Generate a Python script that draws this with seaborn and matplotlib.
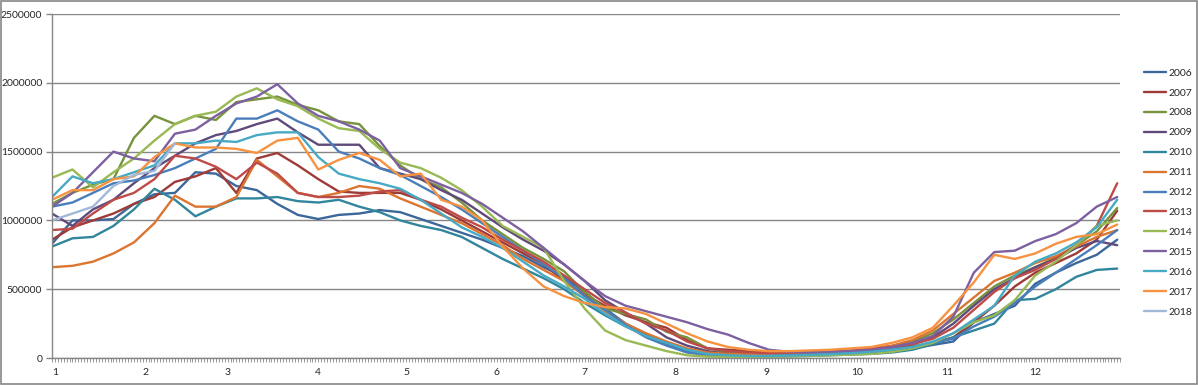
import matplotlib
matplotlib.use("Agg")
import matplotlib.pyplot as plt
from matplotlib.patches import Rectangle
from matplotlib.ticker import FixedLocator, MultipleLocator
import pandas as pd
import seaborn as sns

# values read weekly (day 0, 7, 14, ... 364), in thousands
years = ["2006", "2007", "2008", "2009", "2010", "2011", "2012",
         "2013", "2014", "2015", "2016", "2017", "2018"]
days = list(range(0, 365, 7))

v2006 = [830, 1000, 1000, 1010, 1120, 1190, 1200, 1350, 1340, 1250, 1220, 1120, 1040,
         1010, 1040, 1050, 1075, 1060, 1010, 960, 910, 860, 800, 740, 660, 590,
         480, 360, 250, 170, 110, 60, 30, 20, 15, 15, 18, 22, 28,
         35, 42, 55, 70, 95, 120, 260, 320, 380, 540, 620, 690, 750, 860]
v2007 = [860, 950, 1000, 1050, 1120, 1170, 1280, 1320, 1380, 1200, 1450, 1490, 1400,
         1300, 1210, 1200, 1200, 1200, 1150, 1080, 1000, 920, 840, 760, 680, 560,
         460, 380, 310, 260, 220, 130, 70, 60, 50, 40, 38, 40, 45,
         50, 60, 70, 85, 110, 150, 260, 380, 520, 620, 690, 760, 860, 1070]
v2008 = [1120, 1200, 1260, 1300, 1600, 1760, 1700, 1760, 1730, 1860, 1880, 1900, 1840,
         1800, 1720, 1700, 1540, 1400, 1300, 1240, 1130, 1000, 900, 800, 720, 630,
         480, 360, 320, 280, 190, 150, 70, 40, 25, 20, 20, 25, 30,
         45, 65, 85, 120, 180, 280, 400, 520, 600, 660, 730, 820, 920, 1090]
v2009 = [1050, 960, 1080, 1150, 1270, 1380, 1470, 1560, 1620, 1650, 1700, 1740, 1640,
         1550, 1550, 1550, 1380, 1340, 1300, 1220, 1150, 1050, 950, 860, 780, 680,
         560, 420, 330, 250, 150, 90, 50, 30, 20, 20, 25, 30, 35,
         45, 55, 70, 100, 150, 250, 380, 500, 580, 660, 720, 800, 850, 820]
v2010 = [810, 870, 880, 960, 1080, 1230, 1150, 1030, 1100, 1160, 1160, 1170, 1140,
         1130, 1150, 1100, 1060, 1000, 960, 930, 880, 800, 720, 650, 580, 500,
         400, 310, 230, 160, 100, 50, 25, 15, 10, 10, 12, 15, 20,
         25, 30, 40, 60, 100, 150, 200, 250, 420, 430, 500, 590, 640, 650]
v2011 = [660, 670, 700, 760, 840, 980, 1180, 1100, 1100, 1170, 1440, 1320, 1200,
         1170, 1200, 1250, 1230, 1160, 1100, 1040, 980, 900, 820, 720, 640, 560,
         450, 340, 250, 180, 120, 70, 40, 30, 25, 22, 25, 30, 35,
         50, 70, 90, 130, 200, 320, 440, 560, 620, 690, 740, 810, 880, 930]
v2012 = [1100, 1130, 1200, 1270, 1290, 1330, 1380, 1450, 1520, 1740, 1740, 1800, 1720,
         1660, 1500, 1450, 1380, 1330, 1250, 1170, 1080, 980, 880, 780, 680, 580,
         450, 350, 240, 150, 90, 40, 20, 15, 12, 15, 20, 25, 30,
         40, 50, 65, 80, 110, 140, 230, 300, 400, 520, 620, 720, 820, 930]
v2013 = [930, 940, 1050, 1150, 1200, 1300, 1470, 1450, 1390, 1300, 1420, 1340, 1200,
         1170, 1170, 1180, 1210, 1220, 1150, 1100, 1020, 950, 860, 780, 700, 600,
         500, 400, 330, 250, 200, 120, 70, 50, 40, 35, 40, 45, 50,
         55, 65, 80, 100, 140, 220, 350, 480, 580, 640, 720, 820, 960, 1270]
v2014 = [1310, 1370, 1240, 1350, 1450, 1580, 1700, 1760, 1790, 1900, 1960, 1880, 1830,
         1740, 1670, 1650, 1520, 1420, 1380, 1310, 1220, 1100, 960, 880, 800, 560,
         360, 200, 130, 90, 50, 20, 10, 8, 8, 10, 12, 15, 20,
         25, 30, 45, 70, 110, 180, 260, 310, 420, 600, 700, 820, 960, 1000]
v2015 = [1100, 1200, 1350, 1500, 1450, 1430, 1630, 1660, 1760, 1850, 1900, 1990, 1850,
         1760, 1720, 1660, 1580, 1380, 1320, 1260, 1200, 1120, 1020, 920, 800, 680,
         560, 450, 380, 340, 300, 260, 210, 170, 110, 60, 45, 40, 45,
         50, 60, 80, 110, 160, 300, 620, 770, 780, 850, 900, 980, 1100, 1170]
v2016 = [1170, 1320, 1270, 1300, 1350, 1400, 1560, 1560, 1580, 1570, 1620, 1640, 1640,
         1460, 1340, 1300, 1270, 1230, 1150, 1050, 950, 880, 800, 700, 600, 520,
         430, 320, 230, 160, 110, 60, 30, 20, 15, 15, 18, 22, 28,
         35, 45, 60, 80, 120, 180, 280, 380, 600, 700, 760, 840, 950, 1150]
v2017 = [1150, 1220, 1220, 1300, 1320, 1460, 1560, 1530, 1530, 1520, 1490, 1580, 1600,
         1370, 1440, 1490, 1440, 1320, 1340, 1150, 1100, 1000, 810, 650, 520, 450,
         400, 370, 360, 320, 250, 180, 120, 80, 60, 50, 50, 55, 60,
         70, 80, 110, 150, 220, 380, 550, 750, 720, 760, 830, 880, 900, 970]
v2018 = [1000, 1050, 1100, 1250, 1330, 1360, 1560]

values = [v2006, v2007, v2008, v2009, v2010, v2011, v2012,
          v2013, v2014, v2015, v2016, v2017, v2018]

colors = ["#3C679A", "#9E3A38", "#77933C", "#604A7B", "#31859C", "#DB7530", "#4A7EBB",
          "#BE4B48", "#98B954", "#7D60A0", "#46AAC5", "#F69240", "#A2B8D9"]

month_starts = [0, 31, 59, 90, 120, 151, 181, 212, 243, 273, 304, 334]
month_labels = [str(m) for m in range(1, 13)]

frames = []
for yr, vals in zip(years, values):
    frames.append(pd.DataFrame({"day": days[:len(vals)],
                                "value": [v * 1000 for v in vals],
                                "year": yr}))
df = pd.concat(frames, ignore_index=True)

sns.set_style("white")
plt.rcParams["font.family"] = ["Lato", "DejaVu Sans"]

grey = "#868686"
fig = plt.figure(figsize=(11.98, 3.85), dpi=100)
ax = fig.add_axes([0.0434, 0.0701, 0.8916, 0.8935])

sns.lineplot(data=df, x="day", y="value", hue="year", hue_order=years,
             palette=dict(zip(years, colors)), estimator=None, sort=False,
             linewidth=1.7, ax=ax)

ax.set_xlim(0, 365)
ax.set_ylim(0, 2500000)
ax.set_yticks(range(0, 2500001, 500000))
ax.set_yticklabels([str(v) for v in range(0, 2500001, 500000)])
ax.yaxis.grid(True, color=grey, linewidth=1)
ax.set_axisbelow(True)

ax.xaxis.set_major_locator(FixedLocator(month_starts))
ax.set_xticklabels(month_labels)
ax.xaxis.set_minor_locator(MultipleLocator(1))
for lbl in ax.get_xticklabels():
    lbl.set_horizontalalignment("left")

ax.tick_params(axis="x", which="both", direction="out", length=3, width=0.6,
               color=grey, labelsize=7.5, pad=4, bottom=True)
ax.tick_params(axis="y", which="major", direction="out", length=4, width=1,
               color=grey, labelsize=7.5, pad=3, left=True)
ax.set_xlabel("")
ax.set_ylabel("")

for side in ["top", "right"]:
    ax.spines[side].set_visible(False)
for side in ["left", "bottom"]:
    ax.spines[side].set_color(grey)
    ax.spines[side].set_linewidth(1)

sns.move_legend(ax, "center left", bbox_to_anchor=(0.947, 0.5),
                bbox_transform=fig.transFigure, title=None, frameon=False,
                fontsize=7.5, handlelength=2.1, handletextpad=0.25,
                labelspacing=1.02)

fig.patches.append(Rectangle((0.0005, 0.0015), 0.999, 0.997, transform=fig.transFigure,
                             fill=False, edgecolor=grey, linewidth=1.2))

fig.savefig("out.png", dpi=100)
